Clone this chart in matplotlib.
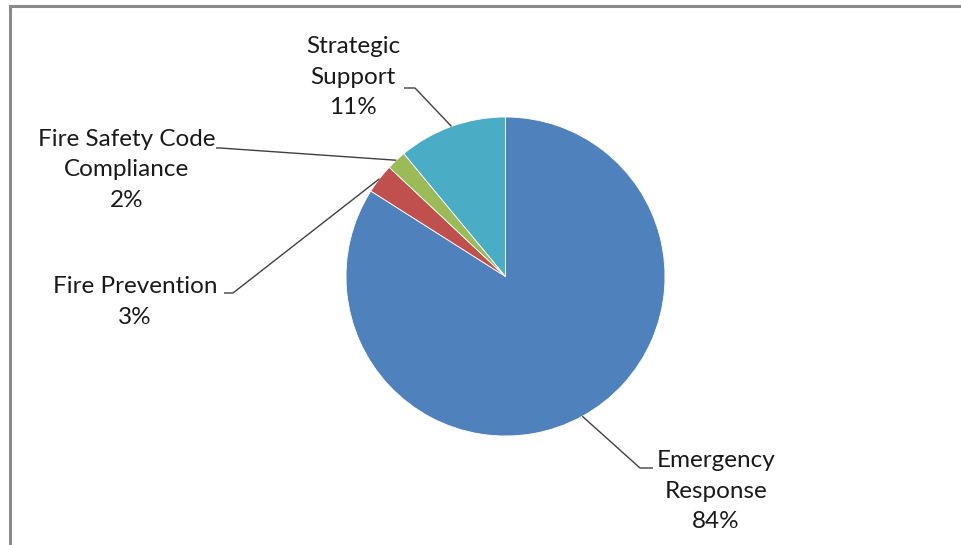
import numpy as np
import matplotlib
matplotlib.use("Agg")
import matplotlib.pyplot as plt
from matplotlib.patches import Rectangle

plt.rcParams['font.family'] = ['Lato', 'DejaVu Sans']

# data
categories = ["Emergency\nResponse", "Fire Prevention", "Fire Safety Code\nCompliance", "Strategic\nSupport"]
shares = [84, 3, 2, 11]
colors = ["#4F81BD", "#C0504D", "#9BBB59", "#4BACC6"]

W, H = 962, 545
fig = plt.figure(figsize=(W / 100, H / 100), dpi=100)
ax = fig.add_axes([0, 0, 1, 1])

cx, cy, r = 505.5, H - 276.5, 159.5
wedges, _ = ax.pie(shares, colors=colors, startangle=90, counterclock=False,
                   center=(cx, cy), radius=r, frame=False,
                   wedgeprops=dict(linewidth=0.6, edgecolor="white"))
ax.set_xlim(0, W)
ax.set_ylim(0, H)
ax.set_aspect("auto")
ax.axis("off")

# label layout in pixel coords (y from top): text centre, elbow, end of leader
layout = [
    ((716, 491), (640, 468), (653, 468)),
    ((135, 302), (233, 293), (224, 293)),
    ((127, 170), (220, 148), (216, 148)),
    ((353, 77), (415, 88), (404, 88)),
]

for w, name, val, (txt, elbow, end) in zip(wedges, categories, shares, layout):
    mid = np.deg2rad((w.theta1 + w.theta2) / 2)
    px, py = cx + r * np.cos(mid), cy + r * np.sin(mid)
    ax.plot([px, elbow[0], end[0]], [py, H - elbow[1], H - end[1]],
            color="#404040", lw=1.0, solid_capstyle="butt")
    ax.text(txt[0], H - txt[1], f"{name}\n{val}%", ha="center", va="center",
            fontsize=17.5, color="#1a1a1a", linespacing=1.58)

# chart frame (extends past right and bottom edges)
fig.patches.append(Rectangle((9.5 / W, -0.1), 1.2, 1 - 5.5 / H + 0.1,
                             transform=fig.transFigure, fill=False,
                             edgecolor="#8a8a8a", lw=2.2))

fig.savefig("out.png", dpi=100)
